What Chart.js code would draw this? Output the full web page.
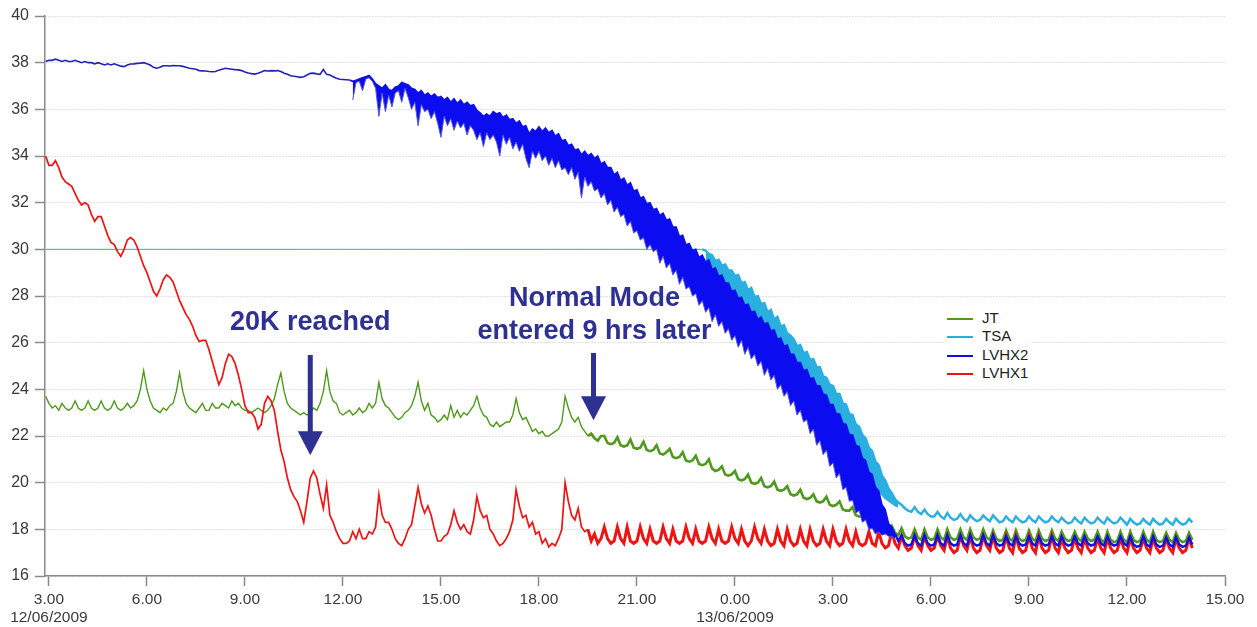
<!DOCTYPE html>
<html>
<head>
<meta charset="utf-8">
<title>JT / TSA / LVHX temperatures</title>
<script src="https://cdn.jsdelivr.net/npm/chart.js@4.4.1/dist/chart.umd.min.js"></script>
<style>
  body { margin: 0; background: #fff; }
  #wrap { position: relative; width: 1257px; height: 627px; }
  .note { position: absolute; transform: translateX(-50%); font: bold 27px "Liberation Sans", Arial, sans-serif; line-height: 33px; color: #2e3192; text-align: center; white-space: pre; }
  #legend { position: absolute; left: 945px; top: 309px; background: #fff; padding: 0 2px 2px 2px; font: 15px "Liberation Sans", Arial, sans-serif; color: #222; }
  #legend div { height: 18.3px; line-height: 18.3px; white-space: nowrap; }
  #legend span { display: inline-block; width: 26px; height: 2px; margin-right: 9px; vertical-align: middle; }
</style>
</head>
<body>
<div id="wrap">
  <canvas id="chart" width="1257" height="627"></canvas>
  <div id="legend"></div>
</div>
<script>
// hours counted from 12/06/2009 00:00, one sample every 0.1 h
const STEP = 0.1;

const tickHours = [3, 6, 9, 12, 15, 18, 21, 24, 27, 30, 33, 36, 39];
const tickLabels = ['3.00', '6.00', '9.00', '12.00', '15.00', '18.00', '21.00', '0.00', '3.00', '6.00', '9.00', '12.00', '15.00'];
const tickDates = ['12/06/2009', '', '', '', '', '', '', '13/06/2009', '', '', '', '', ''];

// JT, 2.9 h -> 38.0 h
const jtStart = 2.9;
const jt = [
  23.7,
  23.4, 23.2, 23.3, 23.1, 23.4, 23.2, 23.1, 23.2, 23.5, 23.2, // 3
  23.1, 23.2, 23.5, 23.2, 23.1, 23.2, 23.5, 23.2, 23.1, 23.2, // 4
  23.5, 23.2, 23.1, 23.2, 23.4, 23.2, 23.3, 23.5, 24.0, 24.8, // 5
  24.0, 23.5, 23.2, 23.1, 23.0, 23.2, 23.1, 23.3, 23.4, 23.9, // 6
  24.7, 23.9, 23.4, 23.2, 23.1, 23.0, 23.2, 23.4, 23.1, 23.1, // 7
  23.4, 23.2, 23.2, 23.4, 23.3, 23.2, 23.5, 23.3, 23.4, 23.2, // 8
  23.1, 23.1, 23.0, 23.1, 23.2, 23.1, 23.0, 23.1, 23.3, 23.6, // 9
  24.2, 24.7, 23.9, 23.4, 23.2, 23.1, 23.0, 22.9, 23.0, 22.9, // 10
  23.0, 23.2, 23.1, 23.4, 23.9, 24.8, 23.9, 23.5, 23.4, 23.0, // 11
  22.9, 23.0, 23.1, 22.9, 23.0, 23.2, 23.0, 23.1, 23.4, 23.2, // 12
  23.4, 24.3, 23.6, 23.3, 23.2, 23.0, 22.8, 22.7, 22.8, 23.0, // 13
  23.1, 23.3, 23.7, 24.3, 23.5, 23.1, 23.4, 22.9, 22.8, 22.6, // 14
  22.7, 22.9, 22.7, 23.3, 22.8, 23.1, 22.8, 23.0, 22.9, 23.1, // 15
  23.3, 23.7, 23.2, 22.9, 22.8, 22.5, 22.4, 22.6, 22.4, 22.5, // 16
  22.6, 22.6, 22.9, 23.6, 23.0, 22.7, 22.8, 22.5, 22.2, 22.3, // 17
  22.1, 22.2, 22.0, 22.0, 22.1, 22.2, 22.3, 22.6, 23.7, 23.2, // 18
  22.8, 22.6, 22.8, 22.4, 22.2, 22.0, 22.1, 21.9, 21.8, 22.0, // 19
  22.0, 21.7, 21.65, 21.7, 21.95, 21.6, 21.55, 21.6, 21.85, 21.5, // 20
  21.45, 21.5, 21.75, 21.4, 21.35, 21.4, 21.6, 21.25, 21.2, 21.3, // 21
  21.45, 21.1, 21.05, 21.1, 21.3, 20.95, 20.9, 20.95, 21.15, 20.8, // 22
  20.75, 20.8, 21.0, 20.6, 20.5, 20.55, 20.7, 20.35, 20.3, 20.35, // 23
  20.5, 20.15, 20.1, 20.15, 20.35, 20.0, 19.95, 20.0, 20.2, 19.85, // 24
  19.8, 19.85, 20.05, 19.7, 19.65, 19.7, 19.85, 19.5, 19.45, 19.5, // 25
  19.7, 19.35, 19.3, 19.35, 19.5, 19.2, 19.15, 19.2, 19.4, 19.05, // 26
  19.0, 19.05, 19.2, 18.85, 18.8, 18.8, 18.95, 18.6, 18.55, 18.55, // 27
  18.7, 18.35, 18.25, 18.25, 18.4, 18.05, 18.0, 18.0, 18.15, 17.85, // 28
  17.75, 18.05, 17.7, 17.6, 17.65, 18.0, 17.65, 17.55, 18.0, 17.65, // 29
  17.55, 17.6, 18.0, 17.65, 17.55, 18.0, 17.65, 17.55, 17.6, 18.0, // 30
  17.65, 17.55, 18.0, 17.65, 17.55, 17.6, 18.0, 17.65, 17.55, 17.95, // 31
  17.6, 17.5, 17.55, 17.95, 17.6, 17.5, 17.95, 17.6, 17.5, 17.55, // 32
  17.95, 17.6, 17.5, 17.95, 17.6, 17.5, 17.55, 17.95, 17.6, 17.5, // 33
  17.9, 17.6, 17.5, 17.55, 17.9, 17.6, 17.5, 17.9, 17.6, 17.5, // 34
  17.55, 17.9, 17.55, 17.45, 17.9, 17.55, 17.45, 17.5, 17.9, 17.55, // 35
  17.45, 17.9, 17.55, 17.45, 17.5, 17.9, 17.55, 17.45, 17.9, 17.55, // 36
  17.45, 17.5, 17.85, 17.55, 17.45, 17.85, 17.55, 17.45, 17.5, 17.85, // 37
  17.55
];

// TSA: flat at 30 until 23.0 h, then upper edge of its band from 23.1 h
const tsaFlatHours = [2.9, 23.0];
const tsaFlat = [30.0, 30.0];
const tsaStart = 23.1;
const tsa = [
  29.95, 29.8, 29.75, 29.5, 29.55, 29.3, 29.35, 29.1, 29.1, // 23
  28.85, 28.9, 28.55, 28.6, 28.25, 28.35, 27.95, 28.0, 27.65, 27.7, // 24
  27.3, 27.4, 27.0, 27.1, 26.7, 26.75, 26.4, 26.3, 26.15, 25.85, // 25
  25.9, 25.55, 25.6, 25.25, 25.3, 24.95, 24.95, 24.55, 24.5, 24.2, // 26
  24.15, 23.8, 23.8, 23.4, 23.35, 22.95, 22.9, 22.5, 22.4, 22.05, // 27
  21.9, 21.5, 21.35, 20.9, 20.75, 20.3, 20.1, 19.75, 19.55, 19.3, // 28
  19.15, 19.05, 18.9, 18.8, 18.75, 18.95, 18.75, 18.65, 18.85, 18.65, // 29
  18.55, 18.55, 18.75, 18.55, 18.45, 18.7, 18.5, 18.4, 18.45, 18.65, // 30
  18.45, 18.35, 18.6, 18.45, 18.35, 18.4, 18.6, 18.45, 18.35, 18.6, // 31
  18.45, 18.3, 18.35, 18.55, 18.4, 18.3, 18.55, 18.4, 18.3, 18.35, // 32
  18.55, 18.4, 18.3, 18.55, 18.4, 18.3, 18.35, 18.55, 18.4, 18.3, // 33
  18.5, 18.35, 18.25, 18.3, 18.5, 18.35, 18.25, 18.5, 18.35, 18.25, // 34
  18.3, 18.5, 18.35, 18.25, 18.5, 18.35, 18.25, 18.3, 18.5, 18.35, // 35
  18.2, 18.45, 18.3, 18.2, 18.25, 18.45, 18.3, 18.2, 18.45, 18.3, // 36
  18.2, 18.25, 18.45, 18.3, 18.2, 18.45, 18.3, 18.2, 18.25, 18.45, // 37
  18.3
];
// lower edge of the TSA band while it is falling
const tsaLow = [
  29.3, 29.2, 29.0, 28.9, 28.8, 28.6, 28.5, 28.35, 28.2, // 23
  28.05, 27.9, 27.75, 27.6, 27.45, 27.3, 27.15, 27.0, 26.9, 26.75, // 24
  26.6, 26.45, 26.3, 26.1, 25.95, 25.8, 25.6, 25.45, 25.25, 25.1, // 25
  24.9, 24.75, 24.55, 24.4, 24.25, 24.05, 23.9, 23.7, 23.5, 23.3, // 26
  23.1, 22.9, 22.7, 22.45, 22.2, 22.0, 21.75, 21.5, 21.25, 20.95, // 27
  20.65, 20.35, 20.0, 19.8, 19.6, 19.45, 19.3, 19.2, 19.1, 19.0, // 28
  18.95
];

// LVHX2, 2.9 h -> 38.0 h (upper edge of the noisy band from 12.3 h)
const lvhx2Start = 2.9;
const lvhx2 = [
  38.05,
  38.1, 38.1, 38.15, 38.1, 38.05, 38.1, 38.05, 38.05, 38.1, 38.05, // 3
  38.0, 38.05, 38.0, 38.0, 37.95, 38.0, 37.95, 37.9, 37.95, 37.9, // 4
  37.95, 37.9, 37.85, 37.83, 37.9, 37.94, 37.95, 37.97, 37.98, 38.0, // 5
  37.95, 37.9, 37.8, 37.76, 37.8, 37.87, 37.87, 37.86, 37.88, 37.87, // 6
  37.87, 37.84, 37.8, 37.76, 37.74, 37.72, 37.66, 37.65, 37.64, 37.62, // 7
  37.61, 37.62, 37.68, 37.72, 37.76, 37.74, 37.72, 37.7, 37.69, 37.66, // 8
  37.6, 37.56, 37.53, 37.51, 37.55, 37.6, 37.66, 37.64, 37.66, 37.65, // 9
  37.66, 37.62, 37.55, 37.5, 37.44, 37.42, 37.4, 37.37, 37.4, 37.47, // 10
  37.54, 37.55, 37.52, 37.5, 37.71, 37.5, 37.47, 37.4, 37.33, 37.29, // 11
  37.28, 37.27, 37.26, 37.2, 37.25, 37.3, 37.35, 37.4, 37.45, 37.3, // 12
  37.1, 37.0, 36.9, 37.05, 36.85, 36.8, 36.95, 37.0, 37.15, 37.1, // 13
  37.05, 36.9, 36.85, 36.7, 36.8, 36.6, 36.7, 36.55, 36.65, 36.5, // 14
  36.55, 36.4, 36.5, 36.3, 36.45, 36.25, 36.4, 36.2, 36.3, 36.15, // 15
  36.2, 35.95, 35.85, 35.7, 35.8, 35.7, 35.9, 35.8, 35.85, 35.65, // 16
  35.75, 35.55, 35.6, 35.4, 35.5, 35.25, 35.3, 34.95, 35.15, 35.05, // 17
  35.25, 35.05, 35.2, 35.0, 35.1, 34.85, 34.95, 34.65, 34.7, 34.45, // 18
  34.5, 34.25, 34.3, 34.05, 34.2, 34.0, 34.1, 33.9, 34.0, 33.65, // 19
  33.75, 33.5, 33.5, 33.2, 33.3, 32.95, 33.05, 32.75, 32.85, 32.5, // 20
  32.55, 32.2, 32.25, 31.95, 32.0, 31.7, 31.75, 31.45, 31.55, 31.25, // 21
  31.3, 30.95, 30.95, 30.55, 30.6, 30.2, 30.25, 29.95, 30.0, 29.65, // 22
  29.75, 29.45, 29.55, 29.15, 29.2, 28.85, 28.9, 28.55, 28.55, 28.2, // 23
  28.25, 27.9, 27.95, 27.6, 27.65, 27.3, 27.35, 27.0, 27.1, 26.8, // 24
  26.85, 26.5, 26.55, 26.15, 26.2, 25.85, 25.9, 25.5, 25.5, 25.15, // 25
  25.15, 24.8, 24.85, 24.45, 24.5, 24.15, 24.15, 23.8, 23.75, 23.35, // 26
  23.35, 22.95, 22.95, 22.55, 22.5, 22.05, 22.05, 21.6, 21.55, 21.05, // 27
  20.95, 20.45, 20.35, 19.8, 19.65, 19.05, 18.85, 18.25, 18.1, 17.8, // 28
  17.5, 17.75, 17.4, 17.3, 17.35, 17.75, 17.4, 17.3, 17.75, 17.4, // 29
  17.3, 17.35, 17.75, 17.4, 17.3, 17.75, 17.4, 17.3, 17.35, 17.75, // 30
  17.4, 17.3, 17.75, 17.4, 17.3, 17.35, 17.75, 17.4, 17.3, 17.75, // 31
  17.4, 17.3, 17.35, 17.7, 17.4, 17.3, 17.7, 17.4, 17.3, 17.35, // 32
  17.7, 17.4, 17.3, 17.7, 17.4, 17.3, 17.35, 17.7, 17.4, 17.3, // 33
  17.7, 17.4, 17.3, 17.35, 17.7, 17.4, 17.3, 17.7, 17.4, 17.3, // 34
  17.35, 17.7, 17.4, 17.3, 17.7, 17.4, 17.3, 17.35, 17.7, 17.4, // 35
  17.3, 17.7, 17.35, 17.25, 17.3, 17.7, 17.35, 17.25, 17.7, 17.35, // 36
  17.25, 17.3, 17.65, 17.35, 17.25, 17.65, 17.35, 17.25, 17.3, 17.65, // 37
  17.35
];
// lower edge of the LVHX2 noise band with its downward spikes, 12.3 h -> 28.9 h
const lvhx2LowStart = 12.3;
const lvhx2Low = [
  36.4, 37.15, 37.2, 36.8, 37.3, 37.35, 37.2, // 12
  36.9, 35.7, 36.7, 35.9, 36.6, 36.1, 36.7, 36.8, 36.3, 36.9, // 13
  36.5, 36.0, 36.3, 35.3, 36.2, 35.9, 36.0, 35.6, 35.9, 35.4, // 14
  34.8, 35.7, 35.3, 35.6, 35.1, 35.5, 35.2, 35.4, 34.9, 35.3, // 15
  35.1, 34.7, 35.0, 34.4, 35.0, 34.7, 34.9, 34.6, 34.0, 34.9, // 16
  34.5, 34.8, 34.3, 34.6, 34.2, 34.5, 33.9, 33.5, 34.2, 33.9, // 17
  34.2, 33.8, 34.0, 33.6, 33.9, 33.5, 33.8, 33.4, 33.5, 33.2, // 18
  33.5, 33.0, 33.3, 32.2, 33.1, 32.7, 32.9, 32.5, 32.6, 32.2, // 19
  32.4, 31.9, 32.1, 31.6, 31.8, 31.4, 31.5, 31.0, 31.2, 30.7, // 20
  30.8, 30.4, 30.5, 30.0, 30.2, 29.9, 30.0, 29.4, 29.7, 29.2, // 21
  29.4, 28.9, 29.1, 28.5, 28.8, 28.3, 28.4, 28.0, 28.1, 27.6, // 22
  27.8, 27.3, 27.5, 26.9, 27.2, 26.7, 26.9, 26.4, 26.6, 26.1, // 23
  26.3, 25.8, 26.1, 25.5, 25.8, 25.3, 25.5, 25.0, 25.2, 24.6, // 24
  24.9, 24.4, 24.6, 24.0, 24.2, 23.7, 23.9, 23.3, 23.5, 22.9, // 25
  23.1, 22.6, 22.7, 22.1, 22.3, 21.6, 21.8, 21.2, 21.4, 20.7, // 26
  20.85, 20.2, 20.4, 19.7, 19.8, 19.2, 19.25, 18.7, 18.8, 18.3, // 27
  18.4, 18.0, 18.05, 17.8, 17.9, 17.75, 17.8, 17.7, 17.7, 17.6 // 28
];

// LVHX1, 2.9 h -> 38.0 h
const lvhx1Start = 2.9;
const lvhx1 = [
  34.0,
  33.6, 33.6, 33.8, 33.5, 33.1, 32.9, 32.8, 32.7, 32.4, 32.1, // 3
  31.9, 32.0, 31.9, 31.5, 31.2, 31.4, 31.4, 31.0, 30.6, 30.3, // 4
  30.2, 29.9, 29.7, 30.0, 30.4, 30.5, 30.4, 30.1, 29.7, 29.3, // 5
  29.0, 28.6, 28.2, 28.0, 28.3, 28.7, 28.9, 28.8, 28.6, 28.2, // 6
  27.8, 27.5, 27.2, 27.0, 26.7, 26.3, 26.05, 26.1, 26.1, 25.7, // 7
  25.2, 24.7, 24.2, 24.5, 25.1, 25.5, 25.4, 25.1, 24.6, 24.0, // 8
  23.3, 23.0, 23.0, 22.8, 22.3, 22.5, 23.4, 23.7, 23.5, 23.1, // 9
  22.2, 21.4, 20.9, 20.2, 19.7, 19.4, 19.2, 18.8, 18.3, 19.2, // 10
  20.2, 20.5, 20.2, 19.5, 18.9, 19.9, 18.6, 18.3, 17.9, 17.6, // 11
  17.4, 17.4, 17.5, 17.9, 17.6, 18.0, 17.6, 17.6, 17.9, 17.8, // 12
  18.1, 19.5, 18.6, 18.3, 18.3, 18.0, 17.6, 17.4, 17.3, 17.6, // 13
  18.0, 18.2, 19.0, 19.8, 19.1, 18.7, 19.0, 18.6, 18.0, 17.5, // 14
  17.5, 17.7, 17.8, 18.2, 18.8, 18.3, 18.0, 18.2, 17.9, 17.8, // 15
  18.4, 19.4, 18.8, 18.5, 18.6, 18.0, 17.8, 17.5, 17.3, 17.4, // 16
  17.6, 17.9, 18.4, 19.7, 19.0, 18.5, 18.6, 18.1, 18.3, 17.8, // 17
  17.9, 17.4, 17.6, 17.25, 17.4, 17.3, 17.6, 18.0, 20.0, 19.2, // 18
  18.6, 18.4, 18.9, 18.1, 17.9, 18.0, 17.5, 17.8, 17.4, 17.6, // 19
  18.1, 17.6, 17.4, 17.5, 18.1, 17.6, 17.4, 18.1, 17.5, 17.4, // 20
  17.5, 18.1, 17.6, 17.4, 18.0, 17.5, 17.4, 17.5, 18.1, 17.6, // 21
  17.4, 18.0, 17.5, 17.4, 17.5, 18.1, 17.6, 17.4, 18.0, 17.5, // 22
  17.4, 17.5, 18.1, 17.6, 17.4, 18.0, 17.5, 17.4, 17.5, 18.1, // 23
  17.6, 17.4, 18.0, 17.5, 17.3, 17.5, 18.1, 17.6, 17.4, 18.0, // 24
  17.5, 17.3, 17.4, 18.0, 17.5, 17.3, 18.0, 17.5, 17.3, 17.4, // 25
  18.0, 17.5, 17.3, 18.0, 17.5, 17.3, 17.4, 18.0, 17.5, 17.3, // 26
  18.0, 17.5, 17.3, 17.4, 18.0, 17.5, 17.3, 17.9, 17.4, 17.3, // 27
  17.4, 17.9, 17.4, 17.3, 17.9, 17.4, 17.2, 17.3, 17.9, 17.4, // 28
  17.2, 17.7, 17.3, 17.1, 17.2, 17.7, 17.3, 17.1, 17.7, 17.3, // 29
  17.1, 17.2, 17.7, 17.3, 17.1, 17.7, 17.2, 17.0, 17.1, 17.7, // 30
  17.3, 17.1, 17.7, 17.2, 17.0, 17.1, 17.7, 17.3, 17.1, 17.7, // 31
  17.2, 17.0, 17.1, 17.7, 17.2, 17.0, 17.7, 17.2, 17.0, 17.1, // 32
  17.7, 17.2, 17.0, 17.7, 17.2, 17.0, 17.1, 17.7, 17.2, 17.0, // 33
  17.6, 17.2, 17.0, 17.1, 17.6, 17.2, 17.0, 17.6, 17.2, 17.0, // 34
  17.1, 17.6, 17.2, 17.0, 17.6, 17.2, 17.0, 17.1, 17.6, 17.2, // 35
  17.0, 17.6, 17.2, 17.0, 17.1, 17.6, 17.2, 17.0, 17.6, 17.2, // 36
  17.0, 17.1, 17.6, 17.2, 17.0, 17.6, 17.2, 17.0, 17.1, 17.6, // 37
  17.2
];

// annotations
const noteText = ['20K reached', 'Normal Mode\nentered 9 hrs later'];
const noteHour = [11.0, 19.7];
const noteTop = [27.6, 28.66];
const arrowHour = [11.0, 19.67];
const arrowFrom = [25.47, 25.56];
const arrowTo = [21.18, 22.68];

const legendLabels = ['JT', 'TSA', 'LVHX2', 'LVHX1'];

function series(start, values) {
    return values.map((v, i) => ({ x: Math.round((start + i * STEP) * 10) / 10, y: v }));
}

const FONT = '"Liberation Sans", Arial, sans-serif';
const GREEN = '#4f9a1e', CYAN = '#2aafe0', BLUE = '#1010e6', RED = '#ee1414', NAVY = '#2e3192';

const arrowPlugin = {
    id: 'arrows',
    afterDatasetsDraw(chart) {
        const { ctx, scales: { x, y } } = chart;
        ctx.save();
        ctx.fillStyle = NAVY;
        arrowHour.forEach((h, i) => {
            const px = x.getPixelForValue(h);
            const y0 = y.getPixelForValue(arrowFrom[i]);
            const y1 = y.getPixelForValue(arrowTo[i]);
            const head = 24;
            ctx.fillRect(px - 2.5, y0, 5, y1 - y0 - head + 1);
            ctx.beginPath();
            ctx.moveTo(px - 12.5, y1 - head);
            ctx.lineTo(px + 12.5, y1 - head);
            ctx.lineTo(px, y1);
            ctx.closePath();
            ctx.fill();
        });
        ctx.restore();
    }
};

const ctx = document.getElementById('chart').getContext('2d');
const chart = new Chart(ctx, {
    type: 'line',
    data: {
        datasets: [{
            label: 'JT',
            data: series(jtStart, jt),
            borderColor: GREEN,
            borderWidth: 1.4,
            segment: { borderWidth: c => c.p0.parsed.x >= 19.5 ? 2.6 : 1.4 },
            order: 3
        }, {
            label: 'TSA',
            data: tsaFlatHours.map((h, i) => ({ x: h, y: tsaFlat[i] })).concat(series(tsaStart, tsa)),
            borderColor: CYAN,
            borderWidth: 1,
            segment: { borderWidth: c => c.p0.parsed.x >= 23 ? 2.4 : 1 },
            order: 4
        }, {
            label: 'LVHX2',
            data: series(lvhx2Start, lvhx2),
            borderColor: BLUE,
            borderWidth: 1.8,
            segment: {
                borderColor: c => c.p0.parsed.x < 12.2 ? '#2222b4' : BLUE,
                borderWidth: c => c.p0.parsed.x >= 28.9 ? 2.4 : 1.6
            },
            order: 0
        }, {
            label: 'LVHX1',
            data: series(lvhx1Start, lvhx1),
            borderColor: RED,
            borderWidth: 1.7,
            segment: { borderWidth: c => c.p0.parsed.x >= 19.5 ? 3 : 1.7 },
            order: 2
        }, {
            label: 'TSA band',
            data: series(tsaStart, tsaLow),
            borderColor: CYAN,
            borderWidth: 1,
            backgroundColor: CYAN,
            fill: 1,
            order: 5
        }, {
            label: 'LVHX2 band',
            data: series(lvhx2LowStart, lvhx2Low),
            borderColor: '#5656d8',
            borderWidth: 1,
            backgroundColor: '#0c0cf0',
            fill: 2,
            order: 1
        }]
    },
    options: {
        responsive: false,
        animation: false,
        events: [],
        elements: { point: { radius: 0 }, line: { tension: 0 } },
        layout: { padding: { top: 16, right: 32, left: 0, bottom: 0 } },
        plugins: { legend: { display: false }, tooltip: { enabled: false } },
        scales: {
            x: {
                type: 'linear',
                min: 2.88,
                max: 39,
                afterBuildTicks: s => { s.ticks = tickHours.map(v => ({ value: v })); },
                afterFit: s => { s.height = 51; },
                ticks: {
                    autoSkip: false,
                    maxRotation: 0,
                    padding: 5,
                    color: '#3a3a3a',
                    font: { family: FONT, size: 15.5, lineHeight: 1.17 },
                    callback: (v, i) => tickDates[i] ? [tickLabels[i], tickDates[i]] : tickLabels[i]
                },
                grid: { drawOnChartArea: false, tickLength: 10, tickColor: '#8a8a8a', tickWidth: 1.5 },
                border: { color: '#8a8a8a', width: 1.5 }
            },
            y: {
                min: 16,
                max: 40,
                afterFit: s => { s.width = 45; },
                ticks: { stepSize: 2, padding: 6, color: '#3a3a3a', font: { family: FONT, size: 16 } },
                grid: { color: '#c4c4c4', lineWidth: 1, tickLength: 10, tickColor: '#8a8a8a', tickWidth: 1.5, tickBorderDash: [] },
                border: { color: '#8a8a8a', width: 1.5, dash: [1, 2] }
            }
        }
    },
    plugins: [arrowPlugin]
});

// text notes placed through the chart scales
const wrap = document.getElementById('wrap');
noteText.forEach((t, i) => {
    const d = document.createElement('div');
    d.className = 'note';
    d.textContent = t;
    d.style.left = chart.scales.x.getPixelForValue(noteHour[i]) + 'px';
    d.style.top = chart.scales.y.getPixelForValue(noteTop[i]) + 'px';
    wrap.appendChild(d);
});

// legend inside the plot area
const legend = document.getElementById('legend');
chart.data.datasets.filter(ds => legendLabels.includes(ds.label)).forEach(ds => {
    const row = document.createElement('div');
    const sw = document.createElement('span');
    sw.style.background = ds.borderColor;
    row.appendChild(sw);
    row.appendChild(document.createTextNode(ds.label));
    legend.appendChild(row);
});
</script>
</body>
</html>
